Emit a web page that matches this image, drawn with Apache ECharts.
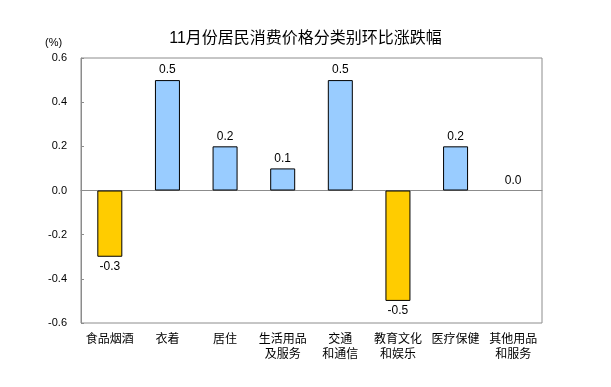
<!DOCTYPE html>
<html><head><meta charset="utf-8">
<script src="https://cdn.jsdelivr.net/npm/echarts@6/dist/echarts.min.js"></script>
<style>html,body{margin:0;padding:0;background:#fff}#c{width:611px;height:387px}</style>
</head><body><div id="c"></div>
<script>
var categories = ['食品烟酒','衣着','居住','生活用品\n及服务','交通\n和通信','教育文化\n和娱乐','医疗保健','其他用品\n和服务'];
var values = [-0.3, 0.5, 0.2, 0.1, 0.5, -0.5, 0.2, 0.0];
var yTicks = [-0.6, -0.4, -0.2, 0.0, 0.2, 0.4, 0.6];
var chart = echarts.init(document.getElementById('c'));
var font = 'Arial, "Liberation Sans", "Noto Sans CJK SC", sans-serif';
var data = values.map(function(v){
  return {value: v,
    itemStyle: {color: v < 0 ? '#FFCC00' : '#99CCFF', borderColor: '#000', borderWidth: v === 0 ? 0 : 1},
    label: {position: v < 0 ? 'bottom' : 'top'}};
});
chart.setOption({
  animation: false,
  title: {text: '11月份居民消费价格分类别环比涨跌幅', left: 'center', top: 26,
    textStyle: {fontSize: 16, fontWeight: 'normal', color: '#000', fontFamily: font}},
  graphic: [{type: 'text', left: 45, top: 37, style: {text: '(%)', fill: '#000', font: '11px ' + font}}],
  grid: {left: 81, right: 69, top: 58, bottom: 64, show: true, borderColor: '#8c8c8c', borderWidth: 1},
  xAxis: {type: 'category', data: categories,
    axisLine: {show: true, onZero: true, lineStyle: {color: '#8c8c8c'}},
    axisTick: {show: false},
    axisLabel: {interval: 0, color: '#000', fontSize: 12, fontFamily: font, lineHeight: 15, margin: 9},
    position: 'bottom'},
  yAxis: {type: 'value', min: -0.6, max: 0.6, interval: 0.2,
    axisLine: {show: true, lineStyle: {color: '#8c8c8c'}},
    axisTick: {show: true, inside: true, length: 3, lineStyle: {color: '#8c8c8c'}},
    splitLine: {show: false},
    axisLabel: {color: '#000', fontSize: 11, fontFamily: font, margin: 14,
      formatter: function(v){return v.toFixed(1);}}},
  series: [{type: 'bar', barWidth: 25, data: data,
    label: {show: true, color: '#000', fontSize: 12, fontFamily: font, distance: 4,
      formatter: function(p){return p.value.toFixed(1);}}
  }]
});
</script></body></html>
